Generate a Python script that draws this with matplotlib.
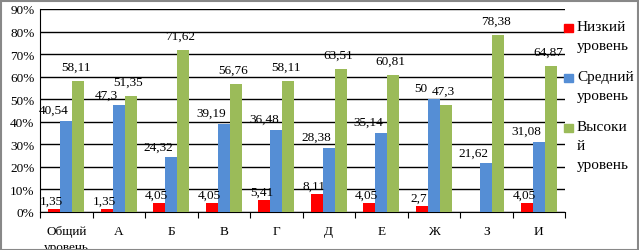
import matplotlib
matplotlib.use("Agg")
import matplotlib.pyplot as plt
import numpy as np
from matplotlib.patches import Rectangle

plt.rcParams['font.family'] = ['Liberation Serif', 'DejaVu Serif']

categories = ["Общий\nуровень", "А", "Б", "В", "Г", "Д", "Е", "Ж", "З", "И"]
low = [1.35, 1.35, 4.05, 4.05, 5.41, 8.11, 4.05, 2.7, 0, 4.05]
mid = [40.54, 47.3, 24.32, 39.19, 36.48, 28.38, 35.14, 50, 21.62, 31.08]
high = [58.11, 51.35, 71.62, 56.76, 58.11, 63.51, 60.81, 47.3, 78.38, 64.87]
series_names = ["Низкий\nуровень", "Средний\nуровень", "Высоки\nй\nуровень"]
colors = ["#FF0000", "#558ED5", "#9BBB59"]

fig = plt.figure(figsize=(6.39, 2.51), dpi=100)
ax = fig.add_axes([40 / 639, 1 - 213 / 251, 525 / 639, 203 / 251])

x = np.arange(len(categories))
w = 0.23
# label offsets (points) per series, roughly like the Excel layout
dx = [-2, -9, -2]
dy = [1.5, 3.5, 6]
for i, (vals, col) in enumerate(zip([low, mid, high], colors)):
    pos = x + (i - 1) * w
    ax.bar(pos, vals, width=w, color=col, zorder=3)
    for p, v in zip(pos, vals):
        if v == 0:
            continue
        lbl = f"{v:g}".replace(".", ",")
        ax.annotate(lbl, (p, v), xytext=(dx[i], dy[i]), textcoords="offset points",
                    ha="center", va="bottom", fontsize=9.5, zorder=4)

ax.set_xlim(-0.5, len(categories) - 0.5)
ax.set_ylim(0, 90)
ax.set_yticks(np.arange(0, 91, 10))
ax.set_yticklabels([f"{t}%" for t in range(0, 91, 10)], fontsize=9.5)
ax.yaxis.grid(True, color="black", linewidth=1, zorder=0)
ax.tick_params(axis="y", length=0, pad=4)

ax.set_xticks(np.arange(-0.5, len(categories)), minor=False)
ax.set_xticklabels([])
ax.set_xticks(x, minor=True)
ax.set_xticklabels(categories, minor=True, fontsize=9.5, linespacing=1.45)
ax.tick_params(axis="x", which="major", length=4, color="black", direction="out")
ax.tick_params(axis="x", which="minor", length=0, pad=9.5)

for s in ["top", "right"]:
    ax.spines[s].set_visible(False)
ax.spines["left"].set_color("black")
ax.spines["bottom"].set_color("black")

# legend
leg_y = [29, 79, 129]
for name, col, yy in zip(series_names, colors, leg_y):
    fig.patches.append(Rectangle((564 / 639, 1 - (yy + 4) / 251), 9 / 639, 8 / 251,
                                 transform=fig.transFigure, color=col))
    fig.text(577 / 639, 1 - (yy - 8) / 251, name, fontsize=11, va="top", ha="left",
             linespacing=1.6)

fig.patches.append(Rectangle((0.5 / 639, 0.5 / 251), 637 / 639, 249 / 251,
                             transform=fig.transFigure, fill=False,
                             edgecolor="#888888", linewidth=1.5))

fig.savefig("out.png", dpi=100)
